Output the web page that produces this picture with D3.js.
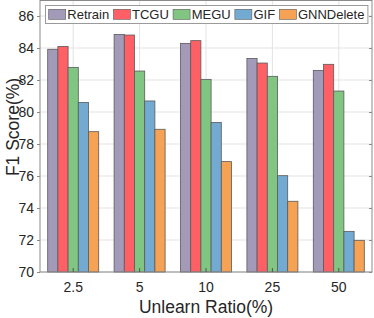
<!DOCTYPE html>
<html>
<head>
<meta charset="utf-8">
<script src="https://cdn.jsdelivr.net/npm/d3@7"></script>
<style>
html,body{margin:0;padding:0;background:#fff;}
svg{display:block;}
text{font-family:"Liberation Sans",Arial,Helvetica,sans-serif;fill:#262626;}
</style>
</head>
<body>
<svg id="chart" width="374" height="318"></svg>
<script>
const categories = ["2.5", "5", "10", "25", "50"];
const series = ["Retrain", "TCGU", "MEGU", "GIF", "GNNDelete"];
const retrain   = [83.92, 84.85, 84.29, 83.35, 82.60];
const tcgu      = [84.10, 84.81, 84.46, 83.06, 82.98];
const megu      = [82.79, 82.56, 82.04, 82.23, 81.31];
const gif       = [80.60, 80.69, 79.35, 76.02, 72.54];
const gnndelete = [78.77, 78.92, 76.90, 74.42, 71.98];
const yTicks = [70, 72, 74, 76, 78, 80, 82, 84, 86];
const colors = ["#a399b9", "#fe6066", "#80c581", "#73aad1", "#f6a254"];
const values = [retrain, tcgu, megu, gif, gnndelete];

const svg = d3.select("#chart");
const L = 40, R = 372, T = 0, B = 272;
const x = d3.scaleBand().domain(categories).range([L, R]).paddingInner(0).paddingOuter(0);
const xs = d3.scaleBand().domain(series).range([-25.5, 25.5]);
const y = d3.scaleLinear().domain([70, 87]).range([B, T]);
const axisCol = "#8a8a8a";

// grid
const g = svg.append("g");
g.selectAll("line.hg").data(yTicks).join("line")
  .attr("x1", L).attr("x2", R).attr("y1", d => y(d)).attr("y2", d => y(d))
  .attr("stroke", "#e3e3e3").attr("stroke-width", 1);
g.selectAll("line.vg").data(categories).join("line")
  .attr("x1", d => x(d) + x.bandwidth() / 2).attr("x2", d => x(d) + x.bandwidth() / 2)
  .attr("y1", T).attr("y2", B)
  .attr("stroke", "#e3e3e3").attr("stroke-width", 1);

// bars
series.forEach((s, si) => {
  svg.append("g").selectAll("rect").data(values[si]).join("rect")
    .attr("x", (d, i) => x(categories[i]) + x.bandwidth() / 2 + xs(s))
    .attr("width", xs.bandwidth())
    .attr("y", d => y(d))
    .attr("height", d => B - y(d))
    .attr("fill", colors[si])
    .attr("stroke", "#5a5a5a").attr("stroke-width", 0.8);
});

// box
svg.append("rect").attr("x", L).attr("y", T + 0.5).attr("width", R - L).attr("height", B - T - 0.5)
  .attr("fill", "none").attr("stroke", axisCol).attr("stroke-width", 1);

// y axis
const yAxis = d3.axisLeft(y).tickValues(yTicks).tickSize(3).tickPadding(3);
const ya = svg.append("g").attr("transform", `translate(${L},0)`).call(yAxis);
ya.select(".domain").remove();
ya.selectAll(".tick line").attr("stroke", axisCol);
ya.selectAll(".tick text").style("font-size", "14px").attr("fill", "#262626");
// right ticks
const yr = svg.append("g").attr("transform", `translate(${R},0)`).call(d3.axisLeft(y).tickValues(yTicks).tickSize(3).tickFormat(""));
yr.select(".domain").remove();
yr.selectAll(".tick line").attr("stroke", axisCol).attr("x2", -3);

// x axis
const xAxis = d3.axisBottom(x).tickSize(-4).tickPadding(10);
const xa = svg.append("g").attr("transform", `translate(0,${B})`).call(xAxis);
xa.select(".domain").remove();
xa.selectAll(".tick line").attr("stroke", "#555");
xa.selectAll(".tick text").style("font-size", "14px").attr("fill", "#262626");

// axis labels
svg.append("text").attr("x", (L + R) / 2).attr("y", 313).attr("text-anchor", "middle")
  .style("font-size", "17.5px").text("Unlearn Ratio(%)");
svg.append("text").attr("transform", "translate(19,127) rotate(-90)").attr("text-anchor", "middle")
  .style("font-size", "17.5px").text("F1 Score(%)");

// legend
const lg = svg.append("g");
const box = lg.append("rect").attr("x", 45.5).attr("y", 5.5).attr("height", 18)
  .attr("fill", "#fff").attr("stroke", "#9a9a9a").attr("stroke-width", 1);
let lx = 48.7;
series.forEach((s, si) => {
  lg.append("rect").attr("x", lx).attr("y", 9.3).attr("width", 17).attr("height", 10)
    .attr("fill", colors[si]).attr("stroke", "#5a5a5a").attr("stroke-width", 0.6);
  const t = lg.append("text").attr("x", lx + 18.6).attr("y", 19.2).style("font-size", "13px").text(s);
  const w = t.node().getComputedTextLength();
  lx = lx + 18.6 + w + 4.2;
});
box.attr("width", lx - 4.2 + 3.5 - 45.5);
</script>
</body>
</html>
